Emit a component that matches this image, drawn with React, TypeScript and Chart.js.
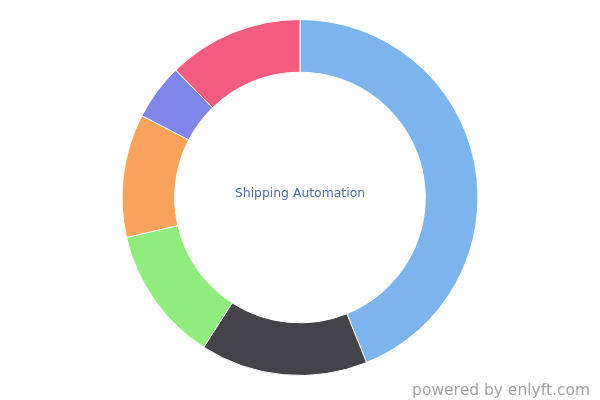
import React, { useEffect, useRef } from "react";
import { Chart, registerables } from "chart.js";

Chart.register(...registerables);

const categories = ["Segment A", "Segment B", "Segment C", "Segment D", "Segment E", "Segment F"];
const values = [43.9, 15.2, 12.3, 11.2, 5.1, 12.3];
const colors = ["#7cb5ec", "#434348", "#90ed7d", "#f7a35c", "#8085e9", "#f15c80"];
const centerTitle = "Shipping Automation";
const creditText = "powered by enlyft.com";

const textPlugin = {
  id: "textPlugin",
  afterDraw(chart: any) {
    const ctx = chart.ctx;
    const meta = chart.getDatasetMeta(0);
    const arc = meta.data[0];
    if (!arc) return;
    ctx.save();
    ctx.font = "12.4px 'DejaVu Sans'";
    ctx.fillStyle = "#4a6fa5";
    ctx.textAlign = "center";
    ctx.textBaseline = "middle";
    ctx.fillText(centerTitle, arc.x, arc.y - 4);
    ctx.font = "15.5px 'DejaVu Sans'";
    ctx.fillStyle = "#a3a3a3";
    ctx.textAlign = "right";
    ctx.textBaseline = "alphabetic";
    ctx.fillText(creditText, 590, 395);
    ctx.restore();
  },
};

export default function App() {
  const ref = useRef<HTMLCanvasElement | null>(null);
  useEffect(() => {
    if (!ref.current) return;
    const chart = new Chart(ref.current, {
      type: "doughnut",
      data: {
        labels: categories,
        datasets: [
          {
            data: values,
            backgroundColor: colors,
            borderColor: "#ffffff",
            borderWidth: 1,
          },
        ],
      },
      options: {
        animation: false,
        responsive: false,
        radius: 178,
        cutout: 138.7,
        layout: { padding: { top: 0, bottom: 5 } },
        plugins: {
          legend: { display: false },
          tooltip: { enabled: false },
        },
      },
      plugins: [textPlugin],
    });
    return () => chart.destroy();
  }, []);
  return (
    <div style={{ position: "fixed", left: 0, top: 0, width: 600, height: 400, background: "#fff" }}>
      <canvas ref={ref} width={600} height={400} style={{ width: 600, height: 400 }} />
    </div>
  );
}
